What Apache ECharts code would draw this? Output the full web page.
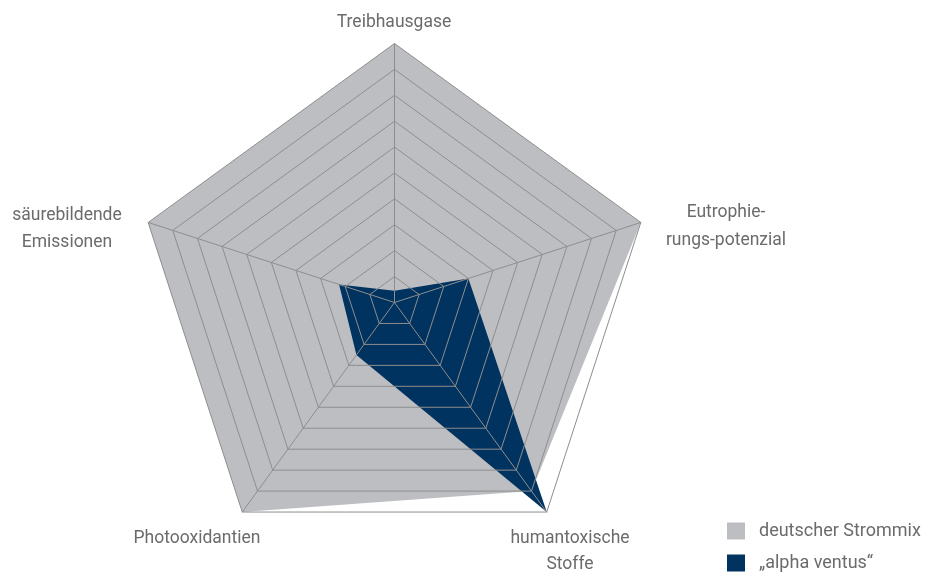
<!DOCTYPE html>
<html>
<head>
<meta charset="utf-8">
<script src="https://cdn.jsdelivr.net/npm/echarts@6/dist/echarts.min.js"></script>
<style>
html,body{margin:0;padding:0;background:#fff;}
#chart{width:925px;height:572px;}
</style>
</head>
<body>
<div id="chart"></div>
<script>
// Indicators in ECharts order (top, then counter-clockwise)
var indicatorNames = ['Treibhausgase', 'säurebildende Emissionen', 'Photooxidantien', 'humantoxische Stoffe', 'Eutrophierungs-potenzial'];
var indicatorLabels = ['Treibhausgase', 'säurebildende\nEmissionen', 'Photooxidantien', 'humantoxische\nStoffe', 'Eutrophie-\nrungs-potenzial'];
var indicatorMax = 100;
var seriesNames = ['deutscher Strommix', '\u201Ealpha ventus\u201C'];
var strommixValues = [100, 100, 100, 90, 100];
var alphaVentusValues = [4.5, 22.5, 25, 100, 30];

var textColor = '#6b6b6b';
var fontFamily = 'Roboto, sans-serif';
var fontSize = 17.5;

var chart = echarts.init(document.getElementById('chart'), null, {renderer: 'canvas'});

function label(text, x, y, lh) {
  return {
    type: 'text', x: x, y: y, z: 100,
    style: {
      text: text, fill: textColor, font: fontSize + 'px ' + fontFamily,
      align: 'center', verticalAlign: 'middle', lineHeight: lh || 27
    }
  };
}

var option = {
  backgroundColor: '#ffffff',
  animation: false,
  legend: {
    orient: 'vertical',
    left: 727,
    top: 522,
    padding: 0,
    itemWidth: 18,
    itemHeight: 17,
    itemGap: 14,
    icon: 'rect',
    data: seriesNames,
    textStyle: {color: textColor, fontSize: 18, fontFamily: fontFamily, padding: [0, 0, 0, 9]}
  },
  radar: {
    z: 5,
    center: [394.5, 302.5],
    radius: 259,
    shape: 'polygon',
    splitNumber: 10,
    indicator: indicatorNames.map(function (n) { return {name: n, max: indicatorMax, min: 0}; }),
    axisName: {show: false},
    splitArea: {show: false},
    splitLine: {lineStyle: {color: '#8e8e8e', width: 1}},
    axisLine: {lineStyle: {color: '#8e8e8e', width: 1}}
  },
  graphic: [
    label(indicatorLabels[0], 394, 23),
    label(indicatorLabels[1], 67, 229, 27),
    label(indicatorLabels[2], 197, 539),
    label(indicatorLabels[3], 570, 552, 26),
    label(indicatorLabels[4], 726, 227, 28)
  ],
  series: [{
    type: 'radar',
    z: 2,
    symbol: 'none',
    lineStyle: {width: 0},
    data: [
      {name: seriesNames[0], value: strommixValues,
       itemStyle: {color: '#bdbec2'}, areaStyle: {color: '#bdbec2', opacity: 1}},
      {name: seriesNames[1], value: alphaVentusValues,
       itemStyle: {color: '#00335f'}, areaStyle: {color: '#00335f', opacity: 1}}
    ]
  }]
};
chart.setOption(option);
</script>
</body>
</html>
